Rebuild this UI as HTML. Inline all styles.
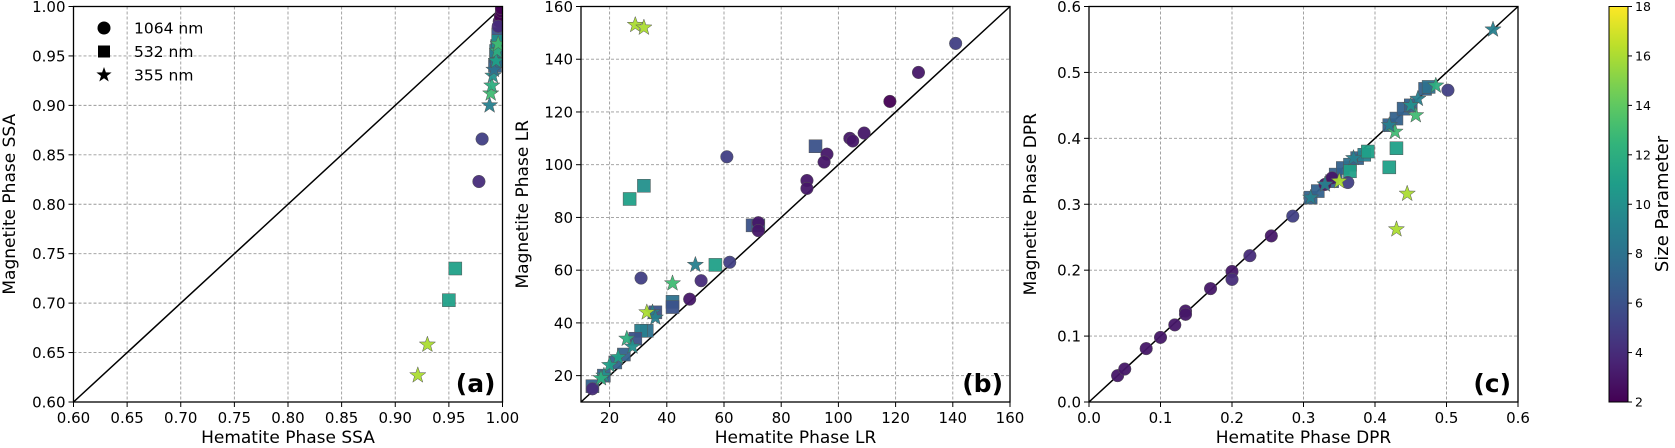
<!DOCTYPE html>
<html><head><meta charset="utf-8"><style>
html,body{margin:0;padding:0;background:#fff;}
svg{display:block;font-family:"DejaVu Sans","Liberation Sans",sans-serif;}
</style></head><body>
<svg id="fig" width="1675" height="448" viewBox="0 0 1675 448" xmlns="http://www.w3.org/2000/svg"></svg>
<script>
// ---- data: [x, y, sizeParameter] ----
const aCircles=[[0.978,0.823,4],[0.981,0.866,5],[0.997,0.985,3],[0.998,0.990,2],[0.999,0.995,2],[0.999,0.998,2],[0.996,0.980,4]];
const aSquares=[[0.950,0.703,11],[0.956,0.735,11],[0.993,0.940,7],[0.994,0.950,7],[0.995,0.960,7],[0.996,0.972,6],[0.995,0.945,8],[0.994,0.955,9],[0.996,0.965,10]];
const aStars=[[0.921,0.627,16],[0.930,0.658,16],[0.988,0.900,9],[0.989,0.912,13],[0.990,0.920,12],[0.991,0.930,10],[0.992,0.936,8],[0.994,0.945,11],[0.995,0.955,12],[0.996,0.962,13]];
const bCircles=[[14,15,4],[61,103,5],[31,57,5],[52,56,4],[48,49,3],[62,63,5],[72,78,3],[72,75,3],[89,94,3],[89,91,3],[96,104,3],[95,101,3],[104,110,3],[105,109,3],[109,112,3],[118,124,2],[128,135,3],[141,146,5]];
const bSquares=[[27,87,11],[32,92,10],[92,107,6],[70,77,6],[57,62,11],[42,48,8],[42,46,6],[36,44,6],[33,37,8],[31,37,9],[29,34,6],[25,28,7],[22,25,7],[18,20,7],[14,16,7],[72,77,7]];
const bStars=[[29,153,16],[32,152,16],[50,62,9],[42,55,13],[35,44,9],[36,42,9],[26,34,12],[23,27,11],[20,24,11],[18,20,10],[17,19,12],[33,44,16],[28,31,10]];
const cCircles=[[0.04,0.04,3],[0.05,0.05,3],[0.08,0.081,3],[0.10,0.098,3],[0.12,0.117,3],[0.135,0.138,3],[0.135,0.133,3],[0.17,0.172,3],[0.20,0.198,3],[0.20,0.186,4],[0.225,0.222,4],[0.255,0.252,3],[0.285,0.282,5],[0.33,0.33,3],[0.34,0.34,3],[0.362,0.333,5],[0.502,0.473,5]];
const cSquares=[[0.31,0.31,7],[0.32,0.32,7],[0.34,0.335,7],[0.345,0.345,7],[0.355,0.355,7],[0.365,0.36,8],[0.375,0.37,7],[0.385,0.375,9],[0.39,0.38,11],[0.365,0.35,11],[0.42,0.356,11],[0.43,0.385,11],[0.42,0.42,7],[0.43,0.43,7],[0.44,0.445,7],[0.45,0.45,7],[0.47,0.475,7],[0.475,0.478,8]];
const cStars=[[0.43,0.262,16],[0.445,0.316,16],[0.428,0.41,13],[0.457,0.435,13],[0.565,0.565,9],[0.46,0.46,9],[0.485,0.48,12],[0.31,0.31,9],[0.35,0.335,16],[0.33,0.33,9],[0.42,0.42,9],[0.45,0.45,10],[0.37,0.37,9]];
const aTicks=[0.60,0.65,0.70,0.75,0.80,0.85,0.90,0.95,1.00];
const bXTicks=[20,40,60,80,100,120,140,160];
const bYTicks=[20,40,60,80,100,120,140,160];
const cTicks=[0.0,0.1,0.2,0.3,0.4,0.5,0.6];
const cbTicks=[2,4,6,8,10,12,14,16,18];

const NS="http://www.w3.org/2000/svg";
const svg=document.getElementById('fig');
function el(tag,attrs,parent,text){const e=document.createElementNS(NS,tag);for(const k in attrs)e.setAttribute(k,attrs[k]);if(text!==undefined)e.textContent=text;(parent||svg).appendChild(e);return e;}
const VIR=[[68,1,84],[72,40,120],[62,74,137],[49,104,142],[38,130,142],[31,158,137],[53,183,121],[109,205,89],[180,222,44],[253,231,37]];
function viridis(t){t=Math.max(0,Math.min(1,t));const p=t*(VIR.length-1);const i=Math.min(VIR.length-2,Math.floor(p));const f=p-i;const c=VIR[i].map((v,k)=>Math.round(v+(VIR[i+1][k]-v)*f));return `rgb(${c[0]},${c[1]},${c[2]})`;}
function col(s){return viridis((s-2)/16);}
const T=6.5,B=402;
function starPts(cx,cy,R){const r=R*0.4;let p=[];for(let i=0;i<10;i++){const a=-Math.PI/2+i*Math.PI/5;const rr=i%2?r:R;p.push((cx+rr*Math.cos(a)).toFixed(1)+','+(cy+rr*Math.sin(a)).toFixed(1));}return p.join(' ');}

function panel(id,L,R,xmin,xmax,ymin,ymax,xt,yt,fmtx,fmty,xlabel,ylabel,tag,circ,sq,st,ylabX){
  const g=el('g',{});
  
  
  const sx=v=>L+(v-xmin)/(xmax-xmin)*(R-L);
  const sy=v=>B-(v-ymin)/(ymax-ymin)*(B-T);
  const grid=el('g',{},g);
  
  
  xt.forEach(v=>{const x=sx(v);el('line',{x1:x,x2:x,y1:T,y2:B,stroke:'#999','stroke-width':0.9,'stroke-dasharray':'3,2'},grid);});
  yt.forEach(v=>{const y=sy(v);el('line',{x1:L,x2:R,y1:y,y2:y,stroke:'#999','stroke-width':0.9,'stroke-dasharray':'3,2'},grid);});
  const lo=Math.max(xmin,ymin),hi=Math.min(xmax,ymax);
  const d=el('line',{x1:sx(lo),y1:sy(lo),x2:sx(hi),y2:sy(hi),stroke:'#000','stroke-width':1.5},g);
  
  
  const clip=el('clipPath',{id:'clip'+id},g);el('rect',{x:L,y:T,width:R-L,height:B-T},clip);
  const m=el('g',{'clip-path':'url(#clip'+id+')'},g);
  sq.forEach(p=>{const s=13;const e=el('rect',{x:sx(p[0])-s/2,y:sy(p[1])-s/2,width:s,height:s,fill:col(p[2]),stroke:'#555','stroke-width':0.5,'fill-opacity':0.95},m);
    
    });
  circ.forEach(p=>{const e=el('circle',{cx:sx(p[0]),cy:sy(p[1]),r:6.3,fill:col(p[2]),stroke:'#555','stroke-width':0.5,'fill-opacity':0.95},m);
    
    });
  st.forEach(p=>{const e=el('polygon',{points:starPts(sx(p[0]),sy(p[1]),8.5),fill:col(p[2]),stroke:'#555','stroke-width':0.5,'fill-opacity':0.95},m);
    
    });
  el('rect',{x:L,y:T,width:R-L,height:B-T,fill:'none',stroke:'#000','stroke-width':1.3},g);
  xt.forEach(v=>{const x=sx(v);el('line',{x1:x,x2:x,y1:B,y2:B+5,stroke:'#000','stroke-width':1},g);
    const t=el('text',{x:x,y:B+21,'font-size':15,'text-anchor':'middle',fill:'#000'},g,fmtx(v));
    
    });
  yt.forEach(v=>{const y=sy(v);el('line',{x1:L-5,x2:L,y1:y,y2:y,stroke:'#000','stroke-width':1},g);
    const t=el('text',{x:L-8,y:y+5.5,'font-size':15,'text-anchor':'end',fill:'#000'},g,fmty(v));
    
    });
  const xl=el('text',{x:(L+R)/2,y:443,'font-size':17,'text-anchor':'middle',fill:'#000'},g,xlabel);
  
  
  const yc=(T+B)/2;
  const yl=el('text',{x:ylabX,y:yc,'font-size':17,'text-anchor':'middle',fill:'#000',transform:`rotate(-90 ${ylabX} ${yc})`},g,ylabel);
  
  
  const tg=el('text',{x:R-7,y:B-10,'font-size':25,'font-weight':'bold','text-anchor':'end',fill:'#000'},g,tag);
  
  
  return g;
}
const f2=v=>v.toFixed(2), f0=v=>String(v), f1=v=>v.toFixed(1);
panel('a',73.5,502.5,0.6,1.0,0.6,1.0,aTicks,aTicks,f2,f2,'Hematite Phase SSA','Magnetite Phase SSA','(a)',aCircles,aSquares,aStars,15);
panel('b',581,1010,10,160,10,160,bXTicks,bYTicks,f0,f0,'Hematite Phase LR','Magnetite Phase LR','(b)',bCircles,bSquares,bStars,528);
panel('c',1089,1518,0,0.6,0,0.6,cTicks,cTicks,f1,f1,'Hematite Phase DPR','Magnetite Phase DPR','(c)',cCircles,cSquares,cStars,1036);

// legend
const lg=el('g',{});


el('circle',{cx:104,cy:28,r:6.5,fill:'#000'},lg);
el('text',{x:134,y:33.5,'font-size':15.5},lg,'1064 nm');
el('rect',{x:98,y:45.5,width:12,height:12,fill:'#000'},lg);
el('text',{x:134,y:57,'font-size':15.5},lg,'532 nm');
el('polygon',{points:starPts(104,75,8),fill:'#000'},lg);
el('text',{x:134,y:80.5,'font-size':15.5},lg,'355 nm');

// colorbar
const cb=el('g',{});


const defs=el('defs',{},cb);
const gr=el('linearGradient',{id:'vg',x1:0,y1:1,x2:0,y2:0},defs);
for(let i=0;i<=20;i++){el('stop',{offset:i/20,'stop-color':viridis(i/20)},gr);}
const CX0=1609,CX1=1628;
el('rect',{x:CX0,y:T,width:CX1-CX0,height:B-T,fill:'url(#vg)',stroke:'#000','stroke-width':1},cb);
cbTicks.forEach(v=>{const y=B-(v-2)/16*(B-T);el('line',{x1:CX1,x2:CX1+4,y1:y,y2:y,stroke:'#000'},cb);
  const t=el('text',{x:CX1+7,y:y+4.5,'font-size':12.5},cb,String(v));
  
  });
const ct=el('text',{x:1668,y:204,'font-size':18,'text-anchor':'middle',transform:'rotate(-90 1668 204)'},cb,'Size Parameter');


</script>
</body></html>
